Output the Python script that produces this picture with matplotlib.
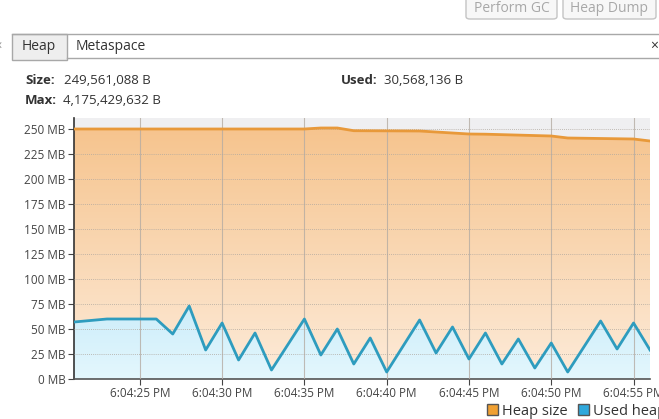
import matplotlib.pyplot as plt
import numpy as np
from matplotlib.patches import Patch, FancyBboxPatch, Rectangle
from matplotlib.lines import Line2D
from matplotlib.colors import LinearSegmentedColormap
from matplotlib.ticker import FuncFormatter

plt.rcParams['font.family'] = ['Open Sans', 'DejaVu Sans']

# sample times in seconds after 6:04:00 PM, values in MB
used_t = [21, 23, 26, 27, 28, 29, 30, 31, 32, 33, 35, 36, 37, 38, 39,
          40, 42, 43, 44, 45, 46, 47, 48, 49, 50, 51, 53, 54, 55, 56]
used_mb = [57, 60, 60, 45, 73, 29, 56, 19, 46, 9, 60, 24, 50, 15, 41,
           7, 59, 26, 52, 20, 46, 15, 40, 11, 36, 7, 58, 30, 56, 29]
heap_t = [21, 35, 36, 37, 38, 42, 45, 46, 50, 51, 55, 56]
heap_mb = [250, 250, 251, 251, 248.3, 248, 245, 244.8, 243, 241, 240, 238]

tick_secs = [25, 30, 35, 40, 45, 50, 55]
tick_labels = ['6:04:25 PM', '6:04:30 PM', '6:04:35 PM', '6:04:40 PM',
               '6:04:45 PM', '6:04:50 PM', '6:04:55 PM']
y_ticks = [0, 25, 50, 75, 100, 125, 150, 175, 200, 225, 250]

W, H = 659, 419
fig = plt.figure(figsize=(W / 100, H / 100), dpi=100)
fig.patch.set_facecolor('white')


def fx(px):
    return px / W


def fy(py):
    return 1 - py / H


ax = fig.add_axes((fx(74), fy(379), fx(650) - fx(74), fy(118) - fy(379)))
ax.set_facecolor('#efeff1')
ax.set_xlim(21, 56)
ax.set_ylim(0, 261)


def gradient_fill(x, y, top, bottom, z):
    poly = ax.fill_between(x, 0, y, facecolor='none', edgecolor='none', zorder=z)
    cmap = LinearSegmentedColormap.from_list('g', [bottom, top])
    grad = np.linspace(0, 1, 256).reshape(-1, 1)
    im = ax.imshow(grad, cmap=cmap, aspect='auto', origin='lower',
                   extent=(21, 56, 0, max(y)), zorder=z)
    im.set_clip_path(poly.get_paths()[0], transform=ax.transData)


gradient_fill(heap_t, heap_mb, '#f6c48e', '#fdebd9', 1)
gradient_fill(used_t, used_mb, '#ccedfa', '#e4f7fd', 2)

for s in tick_secs:
    ax.axvline(s, color='#b5aca3', lw=0.8, alpha=0.8, zorder=3)
for v in y_ticks[1:]:
    ax.axhline(v, color='#b0a89f', lw=0.6, ls=(0, (1, 1.5)), zorder=3)

ax.plot(heap_t, heap_mb, color='#e8993a', lw=2, zorder=4)
ax.plot(used_t, used_mb, color='#2e9cbe', lw=2, zorder=5)

ax.set_xticks(tick_secs)
ax.set_xticklabels(tick_labels)
ax.set_yticks(y_ticks)
ax.yaxis.set_major_formatter(FuncFormatter(lambda v, p: '%d MB' % v))
ax.tick_params(axis='both', colors='#444444', labelsize=8.5, length=4, width=0.8)
ax.tick_params(axis='x', pad=2)
ax.tick_params(axis='y', pad=2)
for side in ('top', 'right'):
    ax.spines[side].set_visible(False)
ax.spines['left'].set_color('#333333')
ax.spines['bottom'].set_color('#555555')
ax.spines['left'].set_linewidth(1.2)
ax.spines['bottom'].set_linewidth(1.2)

# header texts
txt = dict(fontsize=9.5, color='#333333', va='center')
fig.text(fx(25), fy(80), 'Size:', fontweight='bold', **txt)
fig.text(fx(64), fy(80), '249,561,088 B', **txt)
fig.text(fx(25), fy(100), 'Max:', fontweight='bold', **txt)
fig.text(fx(63), fy(100), '4,175,429,632 B', **txt)
fig.text(fx(341), fy(80), 'Used:', fontweight='bold', **txt)
fig.text(fx(384), fy(80), '30,568,136 B', **txt)

# tab bar
fig.add_artist(Line2D([fx(12), 1], [fy(34), fy(34)], color='#a8a8a8', lw=1))
fig.add_artist(Line2D([fx(67), 1], [fy(58), fy(58)], color='#a8a8a8', lw=1))
fig.add_artist(Rectangle((fx(12), fy(60)), fx(55), fy(34) - fy(60), facecolor='#eeeeee',
                         edgecolor='#a8a8a8', lw=1))
fig.text(fx(39), fy(46.5), 'Heap', fontsize=10, color='#333333', ha='center', va='center')
fig.text(fx(76), fy(46.5), 'Metaspace', fontsize=10, color='#333333', va='center')
fig.text(fx(654), fy(46.5), '×', fontsize=10, color='#333333', ha='center', va='center')
fig.text(fx(0), fy(46.5), '‹', fontsize=10, color='#999999', ha='center', va='center')

# buttons
for x0, x1, label in [(466, 557, 'Perform GC'), (563, 656, 'Heap Dump')]:
    fig.add_artist(FancyBboxPatch((fx(x0), fy(19)), fx(x1 - x0), fy(-10) - fy(19),
                                  boxstyle='round,pad=0,rounding_size=0.006',
                                  facecolor='#f7f7f7', edgecolor='#c4c4c4', lw=1))
    fig.text(fx((x0 + x1) / 2), fy(8), label, fontsize=10, color='#a8a8a8',
             ha='center', va='center')

fig.legend(handles=[Patch(facecolor='#f0a032', edgecolor='#555555'),
                    Patch(facecolor='#2fa8dc', edgecolor='#555555')],
           labels=['Heap size', 'Used heap'], loc='center left',
           bbox_to_anchor=(fx(487), fy(411)), ncol=2, frameon=False, fontsize=10.5,
           handlelength=0.75, handleheight=0.75, handletextpad=0.3,
           columnspacing=0.7, borderpad=0, borderaxespad=0, labelcolor='#333333')

fig.savefig('out.png', dpi=100)
